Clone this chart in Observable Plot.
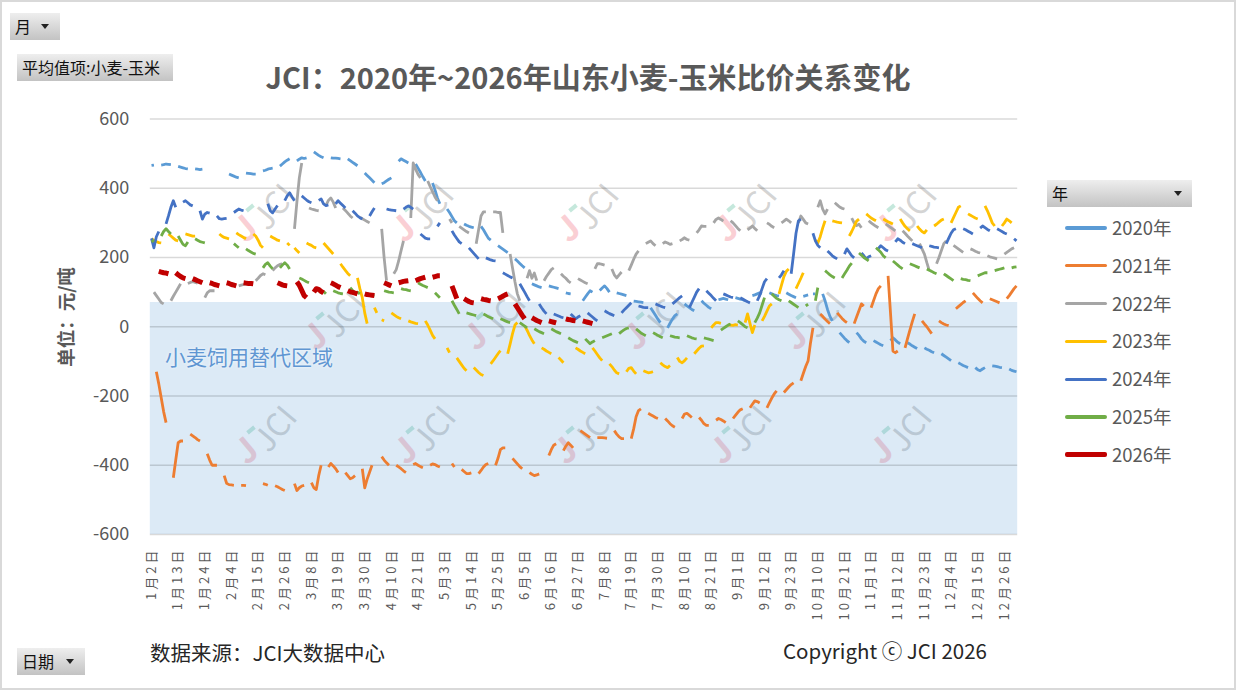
<!DOCTYPE html>
<html><head><meta charset="utf-8">
<script src="https://cdn.jsdelivr.net/npm/d3@7"></script>
<script src="https://cdn.jsdelivr.net/npm/@observablehq/plot@0.6"></script>
<style>
body{margin:0;background:#fff;font-family:"Noto Sans CJK SC","Noto Sans",sans-serif;}
#wrap{position:relative;width:1236px;height:690px;overflow:hidden;background:#fff;}
#frame{position:absolute;left:0;top:0;width:1236px;height:690px;box-sizing:border-box;border:2px solid #d9d9d9;pointer-events:none;z-index:5;}
#wm{position:absolute;left:0;top:0;width:1236px;height:690px;z-index:0;}
#chart{position:absolute;left:0;top:0;z-index:1;}
#chart g[aria-label="x-axis tick label"] text{letter-spacing:3px;}
.wmj{position:absolute;font:400 32px "Noto Sans CJK SC",sans-serif;color:rgba(175,175,175,0.55);transform:translate(-50%,-50%) rotate(-50deg);line-height:1;white-space:nowrap;}
.wmp{position:absolute;font:700 34px "Noto Sans CJK SC",sans-serif;color:rgba(245,160,170,0.5);transform:translate(-50%,-50%) rotate(-40deg);line-height:1;}
.wmg{position:absolute;width:9px;height:4px;background:rgba(140,210,185,0.5);transform:translate(-50%,-50%) rotate(-40deg);}
.txt{position:absolute;z-index:3;white-space:nowrap;line-height:1;}
.btn{position:absolute;z-index:3;box-sizing:border-box;background:linear-gradient(to bottom,#eeeeee,#c3c3c3);font-size:16px;color:#111;line-height:27px;height:27px;padding-left:5px;white-space:nowrap;}
.arrow{position:absolute;top:11px;width:0;height:0;border-left:4.5px solid transparent;border-right:4.5px solid transparent;border-top:5px solid #222;}
.lg{position:absolute;z-index:3;}
.lg .ln{position:absolute;left:0;width:42px;border-radius:2px;}
.lg .lt{position:absolute;left:47px;font-size:18.5px;color:#595959;line-height:1;white-space:nowrap;}
</style></head>
<body><div id="wrap">
<div id="wm"></div>
<div id="chart"></div>
<div id="frame"></div>
</div>
<script>
const _ = null;
// categories: calendar days (leap-year day list) that appear in the pivot table
const calendarYear = 2020;
const missingDays = ["1月1日","5月1日","10月1日","10月2日","10月3日","10月4日","10月5日","10月6日"];
const tickLabels = ["1月2日","1月13日","1月24日","2月4日","2月15日","2月26日","3月8日","3月19日","3月30日","4月10日","4月21日","5月3日","5月14日","5月25日","6月5日","6月16日","6月27日","7月8日","7月19日","7月30日","8月10日","8月21日","9月1日","9月12日","9月23日","10月10日","10月21日","11月1日","11月12日","11月23日","12月4日","12月15日","12月26日"];
const yTicks = [-600,-400,-200,0,200,400,600];
const zone = {label:"小麦饲用替代区域", low:-600, high:70};
const seriesNames = ["2020年","2021年","2022年","2023年","2024年","2025年","2026年"];
const seriesYears = [2020,2021,2022,2023,2024,2025,2026];
const seriesColors = ["#5B9BD5","#ED7D31","#A5A5A5","#FFC000","#4472C4","#70AD47","#C00000"];

// values: one row per calendar week (Mon..Fri) of each year, null = no quote
const s2020 = [[_,_,_,466,467],[467,468,470,469,468],[463,461,459,457,456],[456,455,454,455,_],[_,_,_,_,_],[441,438,435,432,430],[444,443,442,441,441],[450,452,455,457,458],[464,470,476,481,485],[479,484,488,486,488],[505,500,495,491,488],[488,487,487,486,485],[485,480,475,470,465],[444,437,430,423,416],[413,416,421,426,430],[478,485,481,477,473],[470,458,446,433,421],[415,395,372,355,_],[340,330,318,306,300],[297,293,290,288,286],[290,280,268,256,250],[234,229,224,219,214],[196,190,183,176,170],[124,121,118,115,113],[118,116,114,112,110],[98,96,95,_,_],[75,85,95,104,100],[105,112,118,110,100],[98,96,94,92,90],[74,73,72,71,70],[55,44,33,22,12],[-3,10,22,32,37],[66,60,55,50,46],[75,68,62,56,52],[78,80,82,80,78],[84,82,80,78,75],[90,92,95,98,96],[98,95,92,90,89],[98,94,90,87,84],[88,90,92,_,_],[_,_,_,95,95],[95,75,50,30,17],[-17,-25,-33,-40,-46],[-17,-25,-35,-42,-46],[-40,-44,-48,-52,-55],[-40,-32,-38,-45,-49],[-46,-50,-55,-59,-63],[-61,-65,-68,-72,-75],[-78,-83,-88,-93,-98],[-104,-108,-112,-115,-118],[-118,-124,-127,-122,-118],[-113,-114,-115,-117,-118],[-122,-126,-128,-130,_]];
const s2021 = [[_,_,_,_,_],[-130,-165,-205,-245,-277],[-436,-385,-335,-330,-330],[-310,-315,-320,-326,-330],[-367,-385,-400,-400,-400],[-430,-452,-456,-457,-458],[-458,-458,-459,_,_],[_,_,-453,-455,-458],[-459,-462,-466,-470,-473],[-453,-473,-465,-460,-458],[-450,-465,-470,-430,-400],[-405,-395,-402,-410,-421],[-421,-430,-439,-436,-430],[-410,-465,-440,-420,-400],[_,-375,-385,-393,-400],[-400,-405,-410,-416,-421],[-398,-395,-400,-404,-407],[-400,-396,-398,-402,-405],[_,_,_,-395,-405],[-412,-418,-424,-424,-422],[-424,-415,-405,-398,-395],[-400,-380,-355,-350,-350],[-380,-388,-396,-404,-410],[-421,-426,-430,-428,-425],[_,-372,-355,-342,-338],[-358,-345,-335,-342,-350],[-300,-305,-310,-315,-320],[-320,-320,-320,-321,-322],[-300,-310,-318,-323,-323],[-323,-295,-260,-242,-237],[-250,-254,-258,-262,-265],[-265,-272,-280,-286,-290],[-265,-252,-250,-256,-262],[-262,-270,-280,-285,-285],[-270,-265,-268,-272,-277],[-265,-256,-247,-240,-237],[-234,-224,-214,-216,-220],[-234,-220,-206,-194,-185],[-190,-182,-174,-167,-162],[-156,-135,-115,-98,_],[_,_,_,-46,-3],[37,30,22,15,9],[40,32,24,17,12],[9,28,47,66,60],[55,75,95,110,118],[147,40,-70,-75,-70],[-61,-35,-10,15,37],[17,8,0,-10,-20],[17,12,8,5,3],[52,58,64,70,75],[98,90,82,75,69],[81,78,75,72,69],[81,90,100,110,118]];
const s2022 = [[_,_,_,_,_],[100,90,80,70,66],[75,88,100,112,124],[125,128,130,128,126],[84,98,104,104,104],[_,_,_,_,_],[118,120,122,124,126],[133,140,148,153,150],[162,170,176,180,182],[250,283,360,430,473],[343,340,338,336,335],[350,365,372,360,343],[343,336,328,320,314],[316,312,308,304,300],[_,_,283,200,133],[153,165,190,220,248],[314,473,455,440,430],[421,405,390,375,364],[_,_,_,311,300],[290,285,280,275,271],[240,280,320,332,332],[332,332,330,330,271],[210,170,130,95,75],[140,162,140,155,133],[133,145,155,165,170],[153,146,140,132,127],[139,135,131,127,124],[167,182,182,180,178],[167,150,141,150,158],[162,178,195,210,219],[240,244,248,240,234],[240,245,242,238,240],[248,252,257,252,250],[271,280,291,290,290],[300,310,314,310,305],[306,300,292,284,277],[280,285,291,284,277],[_,300,296,290,286],[300,305,311,306,300],[300,320,310,300,297],[_,_,_,_,_],[345,364,340,326,340],[358,352,346,342,340],[314,300,292,296,286],[306,300,295,290,286],[297,292,287,282,277],[277,270,262,255,248],[240,225,210,185,162],[182,200,220,240,248],[235,230,225,220,215],[225,222,218,215,213],[205,202,200,198,196],[210,215,220,225,228]];
const s2023 = [[254,250,246,243,242],[268,262,256,250,248],[268,266,264,262,262],[_,_,_,_,_],[268,262,258,256,254],[271,266,262,258,254],[268,262,250,235,228],[262,258,254,250,248],[242,235,228,220,213],[242,238,235,230,228],[242,234,226,218,210],[182,172,163,154,147],[141,110,84,40,9],[55,40,_,20,17],[40,35,30,26,23],[17,14,12,10,9],[17,5,-10,-25,-35],[_,_,_,-61,-75],[-90,-100,-110,-120,-127],[-118,-125,-132,-138,-141],[-107,-98,-88,-78,-69],[-78,-50,-20,5,12],[3,-10,-25,-38,-49],[-61,-65,-70,-74,-78],[-89,-96,-104,_,_],[-61,-65,-70,-74,-78],[-61,-70,-80,-90,-98],[-107,-115,-125,-133,-136],[-130,-120,-118,-128,-136],[-127,-130,-133,-132,-130],[-104,-110,-115,-118,-112],[-89,-100,-104,-98,-90],[-78,-70,-62,-56,-55],[-3,5,12,12,10],[5,5,4,6,5],[12,37,10,-17,5],[17,30,45,60,66],[95,120,145,160,167],[110,125,140,156,_],[_,_,_,_,_],[250,242,260,285,306],[306,304,302,301,300],[262,275,290,305,311],[326,320,314,310,306],[311,307,303,300,297],[311,300,290,283,277],[291,282,275,271,280],[291,296,302,308,311],[300,315,330,345,349],[326,322,318,314,311],[349,335,318,300,291],[291,300,311,306,300]];
const s2024 = [[_,255,228,260,275],[297,320,345,364,345],[360,364,358,352,349],[335,311,325,330,328],[320,312,311,312,313],[330,335,340,337,335],[_,_,_,_,_],[355,335,329,340,350],[364,378,387,375,364],[378,372,366,361,358],[365,369,355,350,352],[355,364,357,350,343],[335,328,320,315,311],[320,332,343,_,_],[340,338,337,336,335],[340,345,349,345,340],[268,262,256,254,254],[290,300,_,_,_],[277,265,255,245,240],[228,220,212,204,196],[199,196,193,191,190],[156,152,148,144,141],[124,112,100,87,75],[_,66,55,45,37],[37,34,31,28,26],[37,30,23,28,32],[40,34,28,22,17],[46,42,38,35,32],[40,48,55,62,69],[60,58,56,55,55],[66,63,60,57,55],[66,72,78,84,89],[55,70,85,100,110],[104,97,90,82,75],[95,92,89,86,84],[84,80,76,72,69],[75,90,110,130,139],[_,_,141,150,162],[153,210,270,306,311],[300,_,_,_,_],[_,270,248,235,228],[219,212,205,200,196],[210,225,215,205,199],[213,205,196,202,205],[226,234,228,222,219],[245,254,250,244,240],[240,237,234,231,228],[234,232,230,229,228],[240,255,270,280,283],[283,280,276,272,268],[285,291,286,281,277],[283,279,275,271,268],[254,248,_,_,_]];
const s2025 = [[_,_,_,245,250],[262,275,283,275,268],[262,250,238,234,245],[254,250,246,244,242],[248,_,_,_,_],[_,_,240,234,228],[225,220,216,212,210],[170,180,185,175,167],[170,178,185,178,167],[141,138,134,130,127],[113,105,98,102,95],[104,101,98,96,95],[113,105,98,100,95],[95,93,91,89,_],[104,102,100,99,98],[110,108,107,105,104],[127,123,119,116,113],[98,91,84,_,_],[_,75,62,50,37],[40,38,36,34,32],[37,33,29,26,23],[23,20,17,14,12],[_,12,7,2,-3],[-6,-10,-14,-17,-20],[-6,-10,-14,-17,-20],[-32,-36,-40,-43,-46],[-35,-42,-49,-44,-40],[-32,-29,-26,-23,-20],[-20,-14,-9,-5,-3],[-6,-12,-18,-22,-26],[-17,-21,-25,-29,-32],[-26,-28,-30,-31,-32],[-26,-29,-32,-34,-35],[-32,-34,-36,-38,-40],[-10,-5,0,5,8],[17,12,6,0,-3],[12,25,40,62,84],[95,88,82,78,75],[75,70,65,60,55],[60,65,_,_,_],[_,_,_,75,113],[162,156,150,145,141],[141,152,163,175,184],[213,207,200,195,190],[228,222,215,205,199],[190,184,178,172,167],[182,179,176,173,170],[167,163,160,156,153],[153,148,143,138,133],[139,137,136,134,133],[147,150,153,156,156],[162,164,166,168,170],[170,172,173,_,_]];
const s2026 = [[_,_,_,_,162],[160,158,156,155,153],[156,150,145,141,139],[139,136,133,130,127],[127,125,122,120,118],[127,125,122,120,118],[127,126,125,125,124],[_,_,_,_,_],[127,124,121,119,118],[130,120,105,90,84],[100,110,108,102,98],[127,124,120,116,113],[104,101,99,97,95],[95,93,92,91,90],[_,127,124,121,118],[127,129,131,132,133],[133,136,139,141,143],[143,145,147,147,_],[_,_,118,100,81],[81,77,73,70,69],[81,79,78,76,75],[81,84,88,92,95],[66,55,44,33,23],[26,22,18,15,12],[17,15,13,11,_],[23,21,20,18,17],[17,15,13,11,9]];
const seriesWeeks = [s2020,s2021,s2022,s2023,s2024,s2025,s2026];

// ---- build category axis ----
const DAY = 864e5;
const categories = [];
for (let t = Date.UTC(calendarYear,0,1); t < Date.UTC(calendarYear+1,0,1); t += DAY) {
  const d = new Date(t);
  const lab = `${d.getUTCMonth()+1}月${d.getUTCDate()}日`;
  if (!missingDays.includes(lab)) categories.push(lab);
}
const catIndex = new Map(categories.map((c,i)=>[c,i]));
const tickIdx = tickLabels.map(l => catIndex.get(l));

function expand(year, weeks) {
  const arr = new Array(categories.length).fill(null);
  const jan2 = Date.UTC(year,0,2);
  const off = (new Date(jan2).getUTCDay()+6)%7;
  const mon0 = jan2 - off*DAY;
  weeks.forEach((w,k) => w.forEach((v,j) => {
    if (v == null) return;
    const d = new Date(mon0 + (7*k+j)*DAY);
    if (d.getUTCFullYear() !== year) return;
    const i = catIndex.get(`${d.getUTCMonth()+1}月${d.getUTCDate()}日`);
    if (i === undefined) return;
    arr[i] = v;
  }));
  return arr.map((v,i)=>({i, v}));
}

const lineMarks = seriesNames.map((n,s) => Plot.line(expand(seriesYears[s], seriesWeeks[s]), {
  x:"i", y:"v", stroke: seriesColors[s], strokeWidth: s===6 ? 5 : 2.8,
  strokeLinecap:"butt", strokeLinejoin:"round"
}));

const zoneRect = [{x1: 0 - 0.5, x2: categories.length - 0.5, y1: zone.low, y2: zone.high}];

const chart = Plot.plot({
  width:1236, height:690,
  marginLeft:149.8, marginRight:218.8, marginTop:118.5, marginBottom:156,
  x:{type:"linear", domain:[-0.5, categories.length-0.5]},
  y:{domain:[-600,600]},
  style:{background:"transparent", fontFamily:'"Noto Sans CJK SC","Noto Sans",sans-serif', color:"#595959", overflow:"visible"},
  marks:[
    Plot.rect(zoneRect, {x1:"x1", x2:"x2", y1:"y1", y2:"y2", fill:"#5B9BD5", fillOpacity:0.21}),
    Plot.ruleY(yTicks, {stroke:"#000", strokeOpacity:0.15, strokeWidth:1.3}),
    ...lineMarks,
    Plot.axisY({ticks:yTicks, tickSize:0, tickPadding:21, fontSize:18, tickFormat:d=>String(d), label:null}),
    Plot.axisX({ticks:tickIdx, tickFormat:i=>categories[i], tickRotate:-90, tickSize:0, tickPadding:13, fontSize:13, label:null})
  ]
});
document.getElementById("chart").appendChild(chart);

// ---- texts / pivot buttons / legend ----
const wrap = document.getElementById("wrap");
function add(html){ const t=document.createElement("template"); t.innerHTML=html.trim(); const el=t.content.firstChild; wrap.appendChild(el); return el; }
add(`<div class="txt" style="left:588px;top:62px;transform:translateX(-50%);font-size:29px;font-weight:700;color:#595959;">JCI：2020年~2026年山东小麦-玉米比价关系变化</div>`);
add(`<div class="txt" style="left:65px;top:317px;transform:translate(-50%,-50%) rotate(-90deg);font-size:18.5px;font-weight:700;color:#595959;">单位：元/吨</div>`);
add(`<div class="txt" style="left:165px;top:346px;font-size:21px;color:#6096d2;text-shadow:0 0 3px rgba(255,255,255,0.9);">${zone.label}</div>`);
add(`<div class="txt" style="left:150px;top:642px;font-size:20.5px;color:#262626;">数据来源：JCI大数据中心</div>`);
add(`<div class="txt" style="left:783px;top:640px;font-size:20.5px;color:#262626;">Copyright ⓒ JCI 2026</div>`);
add(`<div class="btn" style="left:10px;top:13px;width:50px;">月<span class="arrow" style="left:31px"></span></div>`);
add(`<div class="btn" style="left:17px;top:54px;width:156px;">平均值项:小麦-玉米</div>`);
add(`<div class="btn" style="left:1047px;top:180px;width:145px;">年<span class="arrow" style="left:127px"></span></div>`);
add(`<div class="btn" style="left:17px;top:648px;width:68px;">日期<span class="arrow" style="left:49px"></span></div>`);
seriesNames.forEach((n,s)=>{
  const cy = 228 + s*37.8;
  const w = s===6 ? 5 : 3.2;
  add(`<div class="lg" style="left:1065px;top:${cy}px;"><div class="ln" style="top:${-w/2}px;height:${w}px;background:${seriesColors[s]};"></div><div class="lt" style="top:-10px;">${n}</div></div>`);
});

// ---- watermark logos ----
const wm = document.getElementById("wm");
const logoRows = [[272,430,595,753,913],[342,502,662,822],[273,432,592,748,908]];
const logoY = [205,313,427];
logoRows.forEach((row,r)=>row.forEach(cx=>{
  const cy = logoY[r];
  wm.insertAdjacentHTML("beforeend",
    `<div class="wmp" style="left:${cx-28}px;top:${cy+22}px;">J</div>`+
    `<div class="wmg" style="left:${cx-22}px;top:${cy+3}px;"></div>`+
    `<div class="wmj" style="left:${cx}px;top:${cy}px;">JCI</div>`);
}));
</script>
</body></html>
